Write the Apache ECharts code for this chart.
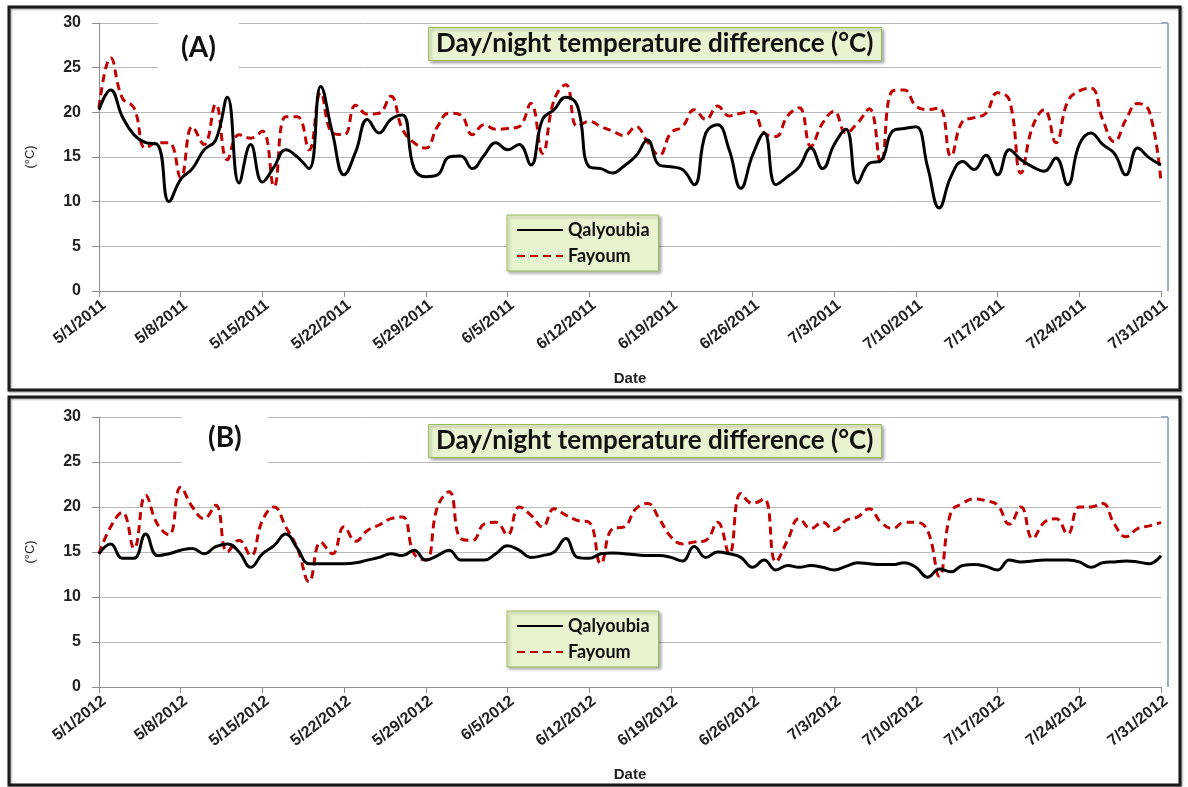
<!DOCTYPE html>
<html>
<head>
<meta charset="utf-8">
<script src="https://cdn.jsdelivr.net/npm/echarts@6/dist/echarts.min.js"></script>
<style>
  html, body { margin: 0; padding: 0; background: #fff; }
  #chart { width: 1188px; height: 787px; }
</style>
</head>
<body>
<div id="chart"></div>
<script>
// daily values 5/1 .. 7/31
const qalyoubia2011 = [
  20.3, 22.5, 19.5, 17.5, 16.6, 16.4, 10.0, 12.5, 13.7, 15.8, 16.9, 21.7, 12.1, 16.4, 12.2, 13.9,
  15.8, 15.0, 13.7, 22.9, 17.7, 13.0, 15.6, 19.2, 17.7, 19.2, 19.7, 13.7, 12.8, 13.0, 15.0, 15.1,
  13.7, 15.2, 16.6, 15.8, 16.4, 14.1, 19.2, 20.3, 21.7, 20.7, 13.9, 13.7, 13.2, 14.0, 15.1, 16.9,
  14.1, 13.9, 13.6, 11.9, 17.7, 18.6, 15.8, 11.5, 15.2, 17.7, 11.9, 12.8, 13.9, 16.0, 13.7, 16.4,
  18.1, 12.1, 14.3, 14.6, 17.9, 18.2, 18.4, 13.9, 9.3, 12.8, 14.5, 13.6, 15.2, 13.0, 15.8, 14.7,
  13.9, 13.4, 14.9, 11.9, 16.4, 17.7, 16.4, 15.4, 13.0, 16.0, 14.9, 14.1
];
const fayoum2011 = [
  20.5, 26.1, 21.6, 20.5, 16.0, 16.6, 16.6, 12.7, 18.4, 16.4, 20.9, 14.7, 17.5, 17.1, 17.9, 11.7,
  19.5, 19.5, 15.8, 22.2, 17.7, 17.5, 20.8, 19.8, 19.9, 21.8, 18.1, 16.6, 16.0, 18.4, 19.9, 19.7,
  17.5, 18.6, 18.1, 18.2, 18.4, 21.0, 15.4, 21.4, 23.1, 18.4, 19.0, 18.4, 17.9, 17.4, 18.4, 16.7,
  15.2, 17.7, 18.4, 20.3, 19.2, 20.7, 19.6, 19.9, 20.1, 17.7, 17.3, 19.6, 20.5, 16.2, 18.8, 20.1,
  17.7, 18.8, 20.4, 14.3, 22.4, 22.5, 20.7, 20.3, 20.5, 15.1, 19.0, 19.4, 19.9, 22.2, 21.4, 13.2,
  18.4, 20.3, 16.6, 21.2, 22.4, 22.7, 19.2, 16.7, 19.2, 21.0, 20.1, 12.1
];
const qalyoubia2012 = [
  14.8, 15.9, 14.3, 14.3, 17.0, 14.6, 14.8, 15.2, 15.4, 14.8, 15.6, 15.9, 15.0, 13.3, 14.8, 15.7,
  17.0, 15.4, 13.7, 13.7, 13.7, 13.7, 13.8, 14.1, 14.4, 14.8, 14.6, 15.2, 14.1, 14.6, 15.2, 14.1,
  14.1, 14.1, 14.8, 15.7, 15.2, 14.4, 14.6, 15.0, 16.5, 14.4, 14.3, 14.8, 14.9, 14.8, 14.7, 14.6,
  14.6, 14.4, 14.0, 15.6, 14.4, 15.0, 14.8, 14.4, 13.3, 14.1, 13.0, 13.5, 13.3, 13.5, 13.3, 13.0,
  13.4, 13.8, 13.7, 13.6, 13.6, 13.8, 13.3, 12.2, 13.1, 12.8, 13.5, 13.6, 13.4, 13.0, 14.1, 13.9,
  14.0, 14.1, 14.1, 14.1, 13.9, 13.3, 13.8, 13.9, 14.0, 13.9, 13.7, 14.6
];
const fayoum2012 = [
  14.8, 17.8, 19.4, 15.4, 21.3, 18.1, 16.9, 22.2, 20.0, 18.7, 20.2, 15.0, 16.3, 14.6, 18.5, 20.0,
  17.8, 15.4, 11.7, 16.1, 14.8, 17.8, 16.2, 17.4, 18.0, 18.7, 18.9, 14.8, 14.1, 20.0, 21.7, 16.5,
  16.3, 18.1, 18.3, 16.9, 20.0, 19.1, 17.8, 19.8, 19.1, 18.5, 18.3, 13.7, 17.6, 17.8, 19.8, 20.4,
  18.7, 16.7, 15.9, 16.1, 16.3, 18.3, 14.8, 21.5, 20.4, 20.9, 13.9, 16.3, 18.7, 17.6, 18.3, 17.4,
  18.5, 18.9, 19.8, 18.3, 17.6, 18.3, 18.3, 17.4, 12.3, 19.4, 20.4, 20.9, 20.7, 20.2, 18.1, 20.0,
  16.5, 18.3, 18.7, 17.0, 20.0, 20.0, 20.4, 18.1, 16.7, 17.6, 17.9, 18.3
];

const months = [5, 6, 7];
const monthDays = [31, 30, 31];

function makeDates(year) {
  const out = [];
  months.forEach((m, i) => {
    for (let d = 1; d <= monthDays[i]; d++) out.push(m + '/' + d + '/' + year);
  });
  return out;
}
const dates2011 = makeDates(2011);
const dates2012 = makeDates(2012);

const chart = echarts.init(document.getElementById('chart'));

function xAxisFor(idx, dates) {
  return {
    type: 'category',
    gridIndex: idx,
    data: dates,
    boundaryGap: false,
    name: 'Date',
    nameLocation: 'middle',
    nameGap: 80,
    nameTextStyle: { fontFamily: 'Liberation Sans', fontWeight: 'bold', fontSize: 15, color: '#222' },
    axisLine: { lineStyle: { color: '#8c8c8c', width: 1 } },
    axisTick: { interval: 6, length: 6, lineStyle: { color: '#8c8c8c' } },
    axisLabel: {
      interval: 6, rotate: 38, margin: 6, verticalAlign: 'top',
      fontFamily: 'Liberation Sans', fontWeight: 'bold', fontSize: 16, color: '#222'
    },
    splitLine: { show: false }
  };
}

function yAxisFor(idx) {
  return {
    type: 'value',
    gridIndex: idx,
    min: 0, max: 30, interval: 5,
    name: '(°C)',
    nameLocation: 'middle',
    nameGap: 62,
    nameRotate: 90,
    nameTextStyle: { fontFamily: 'Liberation Sans', fontSize: 13, color: '#222' },
    axisLine: { show: true, lineStyle: { color: '#8c8c8c' } },
    axisTick: { show: true, length: 7, lineStyle: { color: '#8c8c8c' } },
    axisLabel: { margin: 18, fontFamily: 'Liberation Sans', fontWeight: 'bold', fontSize: 16, color: '#222' },
    splitLine: { lineStyle: { color: '#b8b8b8', width: 1 } }
  };
}

function lineSeries(name, idx, values, dashed) {
  return {
    name: name,
    type: 'line',
    xAxisIndex: idx,
    yAxisIndex: idx,
    data: values,
    smooth: 0.45,
    symbol: 'none',
    lineStyle: dashed
      ? { color: '#c00000', width: 3, type: [8, 5] }
      : { color: '#000', width: 3 },
    itemStyle: { color: dashed ? '#c00000' : '#000' },
    z: dashed ? 3 : 4
  };
}

const titleBox = {
  text: 'Day/night temperature difference (°C)',
  backgroundColor: '#e8f3cf',
  borderColor: '#9bbb59',
  borderWidth: 1,
  padding: [4, 8],
  shadowColor: 'rgba(0,0,0,0.35)',
  shadowBlur: 3,
  shadowOffsetX: 2,
  shadowOffsetY: 2,
  textStyle: { fontFamily: 'Lato', fontWeight: 'bold', fontSize: 26, color: '#111' }
};

const legendBox = {
  orient: 'vertical',
  data: ['Qalyoubia', 'Fayoum'],
  backgroundColor: '#e8f3cf',
  borderColor: '#9bbb59',
  borderWidth: 1,
  padding: [6, 9],
  itemGap: 8,
  itemWidth: 46,
  itemHeight: 14,
  itemStyle: { opacity: 0 },
  shadowColor: 'rgba(0,0,0,0.3)',
  shadowBlur: 3,
  shadowOffsetX: 2,
  shadowOffsetY: 2,
  textStyle: { fontFamily: 'Lato', fontWeight: 'bold', fontSize: 18, color: '#111' }
};

chart.setOption({
  animation: false,
  backgroundColor: '#fff',
  title: [
    Object.assign({ left: 428, top: 27 }, titleBox),
    Object.assign({ left: 428, top: 424 }, titleBox),
    {
      text: '(A)', left: 158, top: 21, padding: [13, 23], backgroundColor: '#fff',
      textStyle: { fontFamily: 'Lato', fontWeight: 'bold', fontSize: 28, color: '#111' }
    },
    {
      text: '(B)', left: 182, top: 411, padding: [13, 26], backgroundColor: '#fff',
      textStyle: { fontFamily: 'Lato', fontWeight: 'bold', fontSize: 28, color: '#111' }
    }
  ],
  legend: [
    Object.assign({ left: 507, top: 215 }, legendBox),
    Object.assign({ left: 507, top: 611 }, legendBox)
  ],
  grid: [
    { left: 99, right: 27, top: 23, height: 268 },
    { left: 99, right: 27, top: 417, height: 270 }
  ],
  xAxis: [xAxisFor(0, dates2011), xAxisFor(1, dates2012)],
  yAxis: [yAxisFor(0), yAxisFor(1)],
  series: [
    lineSeries('Qalyoubia', 0, qalyoubia2011, false),
    lineSeries('Fayoum', 0, fayoum2011, true),
    lineSeries('Qalyoubia', 1, qalyoubia2012, false),
    lineSeries('Fayoum', 1, fayoum2012, true)
  ],
  graphic: [
    // panel frames
    { type: 'rect', shape: { x: 9, y: 7, width: 1171, height: 383 },
      style: { fill: null, stroke: '#1a1a1a', lineWidth: 3, shadowColor: 'rgba(0,0,0,0.4)', shadowBlur: 2, shadowOffsetX: 1, shadowOffsetY: 1 } },
    { type: 'rect', shape: { x: 9, y: 397, width: 1171, height: 388 },
      style: { fill: null, stroke: '#1a1a1a', lineWidth: 3, shadowColor: 'rgba(0,0,0,0.4)', shadowBlur: 2, shadowOffsetX: 1, shadowOffsetY: 1 } },
    // plot-area right edges
    { type: 'line', shape: { x1: 1168, y1: 23, x2: 1168, y2: 291 }, style: { stroke: '#7d93b5', lineWidth: 1.5 } },
    { type: 'line', shape: { x1: 1161, y1: 23, x2: 1168, y2: 23 }, style: { stroke: '#7d93b5', lineWidth: 1.5 } },
    { type: 'line', shape: { x1: 1168, y1: 417, x2: 1168, y2: 687 }, style: { stroke: '#7d93b5', lineWidth: 1.5 } },
    { type: 'line', shape: { x1: 1161, y1: 417, x2: 1168, y2: 417 }, style: { stroke: '#7d93b5', lineWidth: 1.5 } }
  ]
});

window.addEventListener('resize', () => chart.resize());
</script>
</body>
</html>
